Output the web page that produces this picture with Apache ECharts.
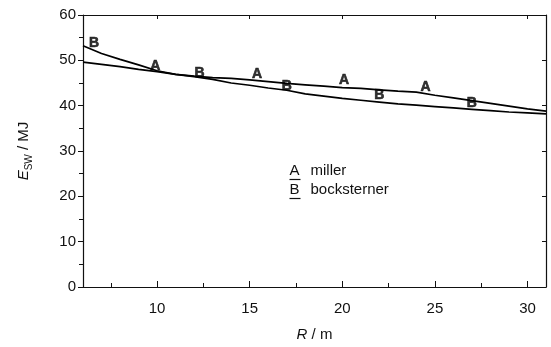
<!DOCTYPE html>
<html>
<head>
<meta charset="utf-8">
<script src="https://cdn.jsdelivr.net/npm/echarts@6/dist/echarts.min.js"></script>
<style>html,body{margin:0;padding:0;background:#fff;}#c{width:551px;height:347px;}</style>
</head>
<body>
<div id="c"></div>
<script>
// Data
const radius = [6,7,8,9,10,11,12,13,14,15,16,17,18,19,20,21,22,23,24,25,26,27,28,29,30,31];
const miller = [49.6,49.1,48.6,48.0,47.5,46.9,46.5,46.2,46.0,45.7,45.3,44.9,44.6,44.3,44.0,43.8,43.5,43.2,43.0,42.3,41.7,41.1,40.5,39.9,39.3,38.8];
const bocksterner = [53.2,51.5,50.2,49.0,47.7,46.9,46.4,45.8,45.0,44.5,43.9,43.4,42.6,42.1,41.6,41.2,40.8,40.4,40.1,39.8,39.5,39.2,38.9,38.6,38.4,38.2];
// Marker letters placed along the curves
const markA_x = [9.9, 15.4, 20.1, 24.5];
const markA_y = [48.8, 47.0, 45.6, 44.0];
const markB_x = [6.6, 12.3, 17.0, 22.0, 27.0];
const markB_y = [53.8, 47.2, 44.2, 42.3, 40.6];
// Tick positions
const xMajorTicks = [10, 15, 20, 25, 30];
const xMinorTicks = [7.5, 12.5, 17.5, 22.5, 27.5];
const legendItems = [['A','miller'],['B','bocksterner']];
const axisNames = {y: ['E','SW',' / MJ'], x: ['R',' / m']};

const FONT = "'Liberation Sans',Arial,sans-serif";
const chart = echarts.init(document.getElementById('c'), null, {renderer:'canvas'});
const zip = (xs, ys) => xs.map((x,i)=>[x, ys[i]]);
const lineColor = '#111';
const markLabel = (t) => ({show: true, position: 'inside', formatter: t, fontSize: 14, fontWeight: 'bold',
  fontFamily: FONT, color: '#000', textBorderColor: '#000', textBorderWidth: 0.6});
const opt = {
  animation: false,
  backgroundColor: '#fff',
  grid: {left: 83, right: 5, top: 15, bottom: 60, containLabel: false},
  xAxis: [{
    type: 'value', min: 6, max: 31,
    axisLine: {show: true, onZero: false, lineStyle: {color: lineColor, width: 1.2}},
    axisTick: {show: true, inside: true, length: 6, customValues: xMajorTicks, lineStyle: {color: lineColor}},
    splitLine: {show: false},
    axisLabel: {color: '#111', fontSize: 15, fontFamily: FONT, margin: 14, customValues: xMajorTicks},
    name: '{i|' + axisNames.x[0] + '}{n|' + axisNames.x[1] + '}',
    nameLocation: 'middle', nameGap: 40,
    nameTextStyle: {rich: {
      i: {fontStyle: 'italic', fontSize: 15, fontFamily: FONT, color: '#111'},
      n: {fontSize: 15, fontFamily: FONT, color: '#111'}}}
  }, {
    type: 'value', position: 'bottom', min: 6, max: 31,
    axisLine: {show: false},
    axisTick: {show: true, inside: true, length: 4, customValues: xMinorTicks, lineStyle: {color: lineColor}},
    axisLabel: {show: false}, splitLine: {show: false}
  }, {
    type: 'value', position: 'top', min: 6, max: 31,
    axisLine: {show: true, onZero: false, lineStyle: {color: lineColor, width: 1.2}},
    axisTick: {show: true, inside: true, length: 4, customValues: xMajorTicks, lineStyle: {color: lineColor}},
    axisLabel: {show: false}, splitLine: {show: false}
  }],
  yAxis: [{
    type: 'value', min: 0, max: 60, interval: 10,
    axisLine: {show: true, onZero: false, lineStyle: {color: lineColor, width: 1.2}},
    axisTick: {show: true, inside: false, length: 5, lineStyle: {color: lineColor}},
    minorTick: {show: true, splitNumber: 2, length: 4, lineStyle: {color: lineColor}},
    splitLine: {show: false},
    axisLabel: {color: '#111', fontSize: 15, fontFamily: FONT, margin: 7},
    name: '{i|' + axisNames.y[0] + '}{s|' + axisNames.y[1] + '}{n|' + axisNames.y[2] + '}',
    nameLocation: 'middle', nameGap: 52, nameRotate: 90,
    nameTextStyle: {rich: {
      i: {fontStyle: 'italic', fontSize: 15, fontFamily: FONT, color: '#111', verticalAlign: 'bottom'},
      s: {fontSize: 10, fontFamily: FONT, color: '#111', verticalAlign: 'bottom', padding: [0,0,-3,0]},
      n: {fontSize: 15, fontFamily: FONT, color: '#111', verticalAlign: 'bottom'}}}
  }, {
    type: 'value', position: 'right', min: 0, max: 60, interval: 10,
    axisLine: {show: true, onZero: false, lineStyle: {color: lineColor, width: 1.2}},
    axisTick: {show: true, inside: true, length: 4, lineStyle: {color: lineColor}},
    axisLabel: {show: false}, splitLine: {show: false}
  }],
  series: [
    {name: 'miller', type: 'line', data: zip(radius, miller), showSymbol: false, symbol: 'none',
     lineStyle: {color: '#000', width: 1.7}, z: 3},
    {name: 'bocksterner', type: 'line', data: zip(radius, bocksterner), showSymbol: false, symbol: 'none',
     lineStyle: {color: '#000', width: 1.7}, z: 3},
    {type: 'scatter', data: zip(markA_x, markA_y), symbolSize: 0.1, z: 5, itemStyle: {color: '#000'},
     label: markLabel('A')},
    {type: 'scatter', data: zip(markB_x, markB_y), symbolSize: 0.1, z: 5, itemStyle: {color: '#000'},
     label: markLabel('B')}
  ],
  graphic: legendItems.map((it, i) => ({
    type: 'group', left: 287, top: 163 + i * 19,
    children: [
      {type: 'text', left: 0, top: 0, style: {text: it[0], font: "15px " + FONT, fill: '#111'}},
      {type: 'line', shape: {x1: 0, y1: 16.5, x2: 11, y2: 16.5}, style: {stroke: '#111', lineWidth: 1.2}},
      {type: 'text', left: 21, top: 0, style: {text: it[1], font: "15px " + FONT, fill: '#111'}}
    ]
  }))
};
chart.setOption(opt);
</script>
</body>
</html>
